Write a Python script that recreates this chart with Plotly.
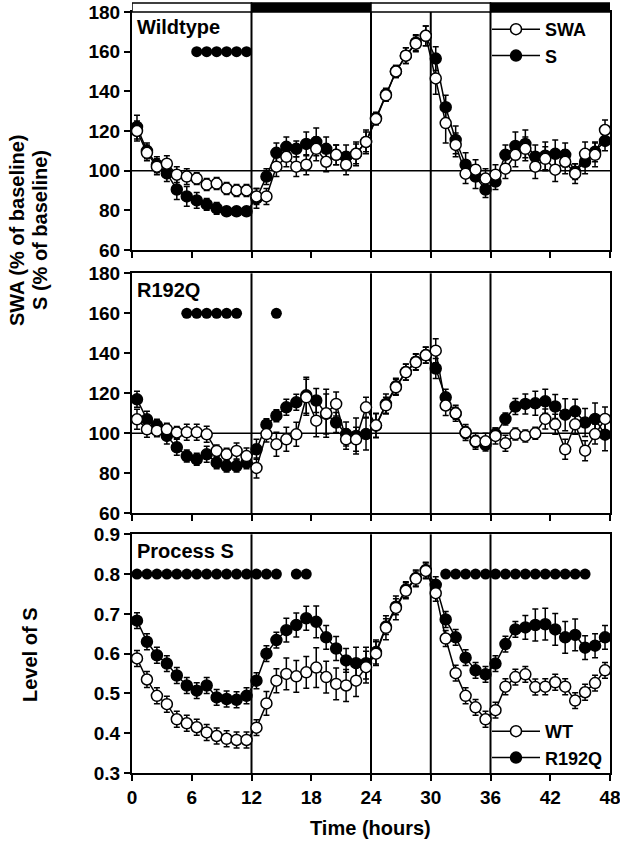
import plotly.graph_objects as go

hours = [0.5 + i for i in range(48)]
xticks = [0, 6, 12, 18, 24, 30, 36, 42, 48]

# Panel 1: Wildtype (% of baseline)
wt_swa = [120, 109, 102, 103.5, 98, 97, 96, 93, 93.5, 91, 90, 90,
          87, 87, 102, 107, 102, 103, 111, 104.5, 108, 103, 108.5, 114.5,
          126, 138, 150, 158, 164, 168, 146.5, 124, 113, 98.5, 100.5, 96,
          98, 101, 108, 111, 102, 106, 100.5, 104.5, 98.5, 108.5, 108, 120.5]
wt_swa_err = [5, 4, 4, 4, 4, 4, 3, 3, 3, 3, 3, 3,
              4, 4, 5, 5, 5, 5, 6, 5, 5, 5, 5, 5,
              3, 3, 3, 4, 4, 5, 8, 10, 6, 5, 5, 5,
              5, 5, 6, 6, 6, 6, 6, 6, 5, 6, 6, 5]
wt_s = [122, 110, 103, 98.6, 90.5, 87, 85, 83, 81, 79.5, 79.5, 79.5,
        86, 97, 109, 112, 111, 113.5, 114.5, 111, 108, 107, 108.5, 114.5,
        126.5, 138.5, 150, 158, 164.5, 168, 156.5, 132, 115.5, 103, 97, 90.5,
        94.5, 108, 112.5, 113.5, 107, 107.5, 108.5, 108, 99.5, 104.5, 109.5, 115]
wt_s_err = [6, 4, 4, 4, 5, 5, 4, 3, 3, 2, 2, 2,
            5, 4, 5, 5, 4, 6, 7, 6, 5, 6, 6, 6,
            3, 3, 3, 4, 4, 5, 6, 6, 7, 6, 6, 4,
            4, 5, 7, 7, 6, 7, 7, 6, 4, 6, 5, 5]

# Panel 2: R192Q (% of baseline)
r_swa = [107, 102, 101.3, 102, 100.4, 100.5, 100.5, 99.5, 91.2, 89.5, 91.2, 88.6,
         82.7, 99.6, 94.5, 97, 99.5, 118, 106.3, 110, 114.7, 97, 97, 113,
         104, 114, 123, 130.5, 135.5, 139, 141.3, 113.9, 110, 100.4, 96, 96,
         98.7, 95, 99.6, 98.7, 100, 107.2, 104.5, 92, 104.5, 91.3, 99.6, 107.2]
r_swa_err = [5, 4, 3, 3, 3, 4, 4, 4, 3, 3, 4, 4,
             5, 4, 6, 6, 6, 9, 8, 12, 6, 5, 6, 5,
             6, 4, 4, 4, 4, 4, 6, 5, 4, 4, 4, 4,
             4, 4, 3, 3, 3, 5, 5, 5, 5, 5, 5, 6]
r_s = [117, 107, 104, 98.7, 93, 88.6, 87, 89.5, 85.3, 83.6, 83.6, 85.3,
       92, 104.3, 108.8, 113, 115.5, 119, 116.4, 109.7, 105.4, 99.6, 98.7, 99.6,
       103.8, 114.7, 123.5, 130.7, 135.8, 139.1, 132.4, 118, 110, 100.4, 95.9, 94.2,
       99.6, 107.2, 113.4, 114.7, 115, 116, 113.4, 109.3, 111, 105.4, 107.2, 99.3]
r_s_err = [4, 4, 3, 4, 4, 3, 3, 4, 3, 3, 3, 3,
           5, 3, 3, 4, 4, 9, 6, 10, 5, 6, 9, 8,
           6, 5, 4, 4, 4, 4, 5, 4, 3, 3, 3, 3,
           3, 3, 4, 5, 6, 6, 6, 8, 6, 7, 8, 8]

# Panel 3: Process S (level of S)
wt_proc = [0.588, 0.535, 0.494, 0.473, 0.435, 0.425, 0.415, 0.402, 0.393, 0.386, 0.383, 0.383,
           0.414, 0.475, 0.532, 0.549, 0.543, 0.553, 0.565, 0.541, 0.524, 0.520, 0.532, 0.566,
           0.600, 0.665, 0.715, 0.758, 0.788, 0.808, 0.752, 0.638, 0.551, 0.494, 0.465, 0.435,
           0.458, 0.517, 0.541, 0.548, 0.516, 0.517, 0.528, 0.517, 0.482, 0.503, 0.526, 0.558]
wt_proc_err = [0.02, 0.02, 0.02, 0.02, 0.02, 0.02, 0.02, 0.02, 0.02, 0.02, 0.02, 0.02,
               0.02, 0.03, 0.03, 0.04, 0.04, 0.04, 0.05, 0.04, 0.04, 0.04, 0.04, 0.04,
               0.03, 0.03, 0.03, 0.02, 0.02, 0.02, 0.02, 0.02, 0.02, 0.02, 0.02, 0.02,
               0.02, 0.02, 0.02, 0.02, 0.02, 0.02, 0.02, 0.02, 0.02, 0.02, 0.02, 0.02]
r_proc = [0.683, 0.630, 0.596, 0.575, 0.545, 0.520, 0.507, 0.520, 0.490, 0.486, 0.484, 0.494,
          0.532, 0.600, 0.634, 0.659, 0.672, 0.689, 0.680, 0.641, 0.613, 0.583, 0.576, 0.576,
          0.604, 0.668, 0.718, 0.761, 0.790, 0.810, 0.773, 0.686, 0.641, 0.590, 0.558, 0.548,
          0.575, 0.624, 0.661, 0.666, 0.672, 0.674, 0.661, 0.641, 0.647, 0.615, 0.620, 0.641]
r_proc_err = [0.02, 0.02, 0.02, 0.02, 0.02, 0.02, 0.02, 0.02, 0.02, 0.02, 0.02, 0.02,
              0.02, 0.02, 0.02, 0.03, 0.03, 0.03, 0.04, 0.03, 0.03, 0.03, 0.04, 0.04,
              0.03, 0.02, 0.02, 0.02, 0.02, 0.02, 0.02, 0.02, 0.02, 0.02, 0.02, 0.02,
              0.02, 0.02, 0.02, 0.03, 0.04, 0.04, 0.04, 0.04, 0.04, 0.03, 0.03, 0.03]

# significance markers
sig1_x = [6.5, 7.5, 8.5, 9.5, 10.5, 11.5]
sig1_level = 160
sig2_x = [5.5, 6.5, 7.5, 8.5, 9.5, 10.5, 14.5]
sig2_level = 160
sig3_x = [0.5, 1.5, 2.5, 3.5, 4.5, 5.5, 6.5, 7.5, 8.5, 9.5, 10.5, 11.5, 12.5, 13.5, 14.5,
          16.5, 17.5,
          31.5, 32.5, 33.5, 34.5, 35.5, 36.5, 37.5, 38.5, 39.5, 40.5, 41.5, 42.5, 43.5, 44.5, 45.5]
sig3_level = 0.8

vlines = [12, 24, 30, 36]
light_dark = [(0, 12, "white"), (12, 24, "black"), (24, 36, "white"), (36, 48, "black")]

FONT = "Liberation Sans, Arial, sans-serif"

fig = go.Figure()


def series(x, y, err, filled, name, xa, ya, legend=None):
    fig.add_trace(go.Scatter(
        x=x, y=y, mode="lines+markers", name=name,
        xaxis=xa, yaxis=ya,
        line=dict(color="black", width=1.5),
        marker=dict(symbol="circle", size=11,
                    color="black" if filled else "white",
                    line=dict(color="black", width=1.5)),
        error_y=dict(type="data", array=err, color="black", thickness=1.5, width=3),
        showlegend=legend is not None,
        legend=legend if legend else "legend",
    ))


def sig(x, level, xa, ya):
    fig.add_trace(go.Scatter(
        x=x, y=[level] * len(x), mode="markers", xaxis=xa, yaxis=ya,
        marker=dict(symbol="circle", size=11, color="black"),
        showlegend=False, hoverinfo="skip"))


# panel 1
series(hours, wt_s, wt_s_err, True, "S", "x", "y", "legend")
series(hours, wt_swa, wt_swa_err, False, "SWA", "x", "y", "legend")
sig(sig1_x, sig1_level, "x", "y")
# panel 2
series(hours, r_s, r_s_err, True, "S", "x2", "y2")
series(hours, r_swa, r_swa_err, False, "SWA", "x2", "y2")
sig(sig2_x, sig2_level, "x2", "y2")
# panel 3
series(hours, r_proc, r_proc_err, True, "R192Q", "x3", "y3", "legend2")
series(hours, wt_proc, wt_proc_err, False, "WT", "x3", "y3", "legend2")
sig(sig3_x, sig3_level, "x3", "y3")

W, H = 620, 842
ML, MR, MT, MB = 132, 10, 12, 69
PH = H - MT - MB
PW = W - ML - MR


def py(px):
    return (H - MB - px) / PH


def px_x(px):
    return (px - ML) / PW


dom1 = [py(250), 1.0]
dom2 = [py(513.3), py(273.3)]
dom3 = [0.0, py(534.3)]

tickfont = dict(family=FONT, size=19, color="black", weight="bold")

xcommon = dict(range=[0, 48], tickvals=xticks, ticks="outside", ticklen=6, tickwidth=2,
               tickcolor="black", showline=True, linewidth=2, linecolor="black",
               mirror=True, showgrid=False, zeroline=False, tickfont=tickfont,
               automargin=False, ticklabeloverflow="allow")
ycommon = dict(ticks="outside", ticklen=6, tickwidth=2, tickcolor="black",
               showline=True, linewidth=2, linecolor="black", mirror=True,
               showgrid=False, zeroline=False, tickfont=tickfont, automargin=False,
               ticklabeloverflow="allow")

legfont = dict(family=FONT, size=18, color="black", weight="bold")

fig.update_layout(
    width=W, height=H,
    margin=dict(l=ML, r=MR, t=MT, b=MB, autoexpand=False),
    paper_bgcolor="white", plot_bgcolor="white",
    font=dict(family=FONT, color="black"),
    xaxis=dict(**xcommon, anchor="y", showticklabels=False),
    xaxis2=dict(**xcommon, anchor="y2", showticklabels=False),
    xaxis3=dict(**xcommon, anchor="y3"),
    yaxis=dict(**ycommon, domain=dom1, range=[60, 180], dtick=20, anchor="x"),
    yaxis2=dict(**ycommon, domain=dom2, range=[60, 180], dtick=20, anchor="x2"),
    yaxis3=dict(**ycommon, domain=dom3, range=[0.3, 0.9], dtick=0.1, tickformat=".1f", anchor="x3"),
    legend=dict(x=px_x(487), y=py(11), xanchor="left", yanchor="top", bgcolor="rgba(0,0,0,0)",
                traceorder="reversed", itemwidth=48, tracegroupgap=0, font=legfont),
    legend2=dict(x=px_x(487), y=py(776), xanchor="left", yanchor="bottom", bgcolor="rgba(0,0,0,0)",
                 traceorder="reversed", itemwidth=48, tracegroupgap=0, font=legfont),
)

shapes = []
for xa, ya in (("x", "y"), ("x2", "y2"), ("x3", "y3")):
    for v in vlines:
        shapes.append(dict(type="line", xref=xa, yref=ya + " domain", x0=v, x1=v, y0=0, y1=1,
                           line=dict(color="black", width=2), layer="below"))
for ya, xa in (("y", "x"), ("y2", "x2")):
    shapes.append(dict(type="line", xref=xa + " domain", yref=ya, x0=0, x1=1, y0=100, y1=100,
                       line=dict(color="black", width=1.5), layer="below"))
bar_h = 9 / PH
for x0, x1, c in light_dark:
    shapes.append(dict(type="rect", xref="x", yref="paper", x0=x0, x1=x1, y0=1.0, y1=1.0 + bar_h,
                       fillcolor=c, line=dict(color="black", width=1.5), layer="above"))
fig.update_layout(shapes=shapes)

ann_font = dict(family=FONT, size=20, color="black", weight="bold")
title_font = dict(family=FONT, size=20, color="black", weight="bold")
annotations = [
    dict(text="Wildtype", xref="x domain", yref="y domain", x=0.007, y=0.99,
         xanchor="left", yanchor="top", showarrow=False, font=ann_font),
    dict(text="R192Q", xref="x2 domain", yref="y2 domain", x=0.007, y=0.985,
         xanchor="left", yanchor="top", showarrow=False, font=ann_font),
    dict(text="Process S", xref="x3 domain", yref="y3 domain", x=0.007, y=0.985,
         xanchor="left", yanchor="top", showarrow=False, font=ann_font),
    dict(text="Time (hours)", xref="paper", yref="paper",
         x=px_x(370), y=py(828), xanchor="center", yanchor="middle",
         showarrow=False, font=title_font),
    dict(text="SWA (% of baseline)", xref="paper", yref="paper",
         x=px_x(17), y=py(230), xanchor="center", yanchor="middle",
         textangle=-90, showarrow=False, font=title_font),
    dict(text="S (% of baseline)", xref="paper", yref="paper",
         x=px_x(40), y=py(230), xanchor="center", yanchor="middle",
         textangle=-90, showarrow=False, font=title_font),
    dict(text="Level of S", xref="paper", yref="paper",
         x=px_x(30), y=py(655), xanchor="center", yanchor="middle",
         textangle=-90, showarrow=False, font=title_font),
]
fig.update_layout(annotations=annotations)

fig.write_html("out.html", config={"displayModeBar": False},
               post_script="document.body.style.margin='0';document.body.style.padding='0';")
